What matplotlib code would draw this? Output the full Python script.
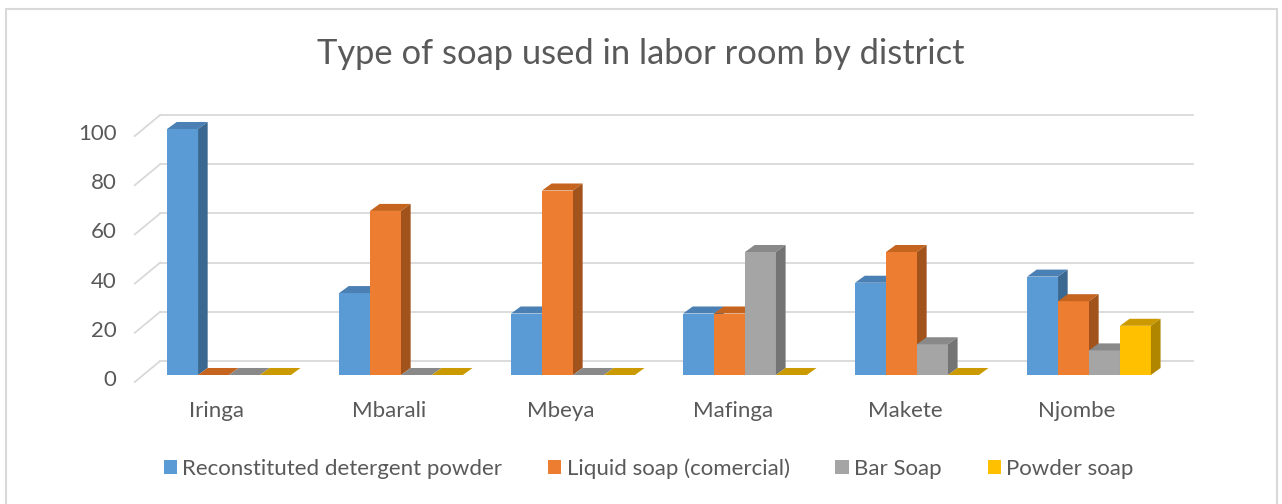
import matplotlib.pyplot as plt
from matplotlib.patches import Patch, Rectangle

plt.rcParams['font.family'] = ['Lato', 'DejaVu Sans']

districts = ['Iringa', 'Mbarali', 'Mbeya', 'Mafinga', 'Makete', 'Njombe']
series = ['Reconstituted detergent powder', 'Liquid soap (comercial)', 'Bar Soap', 'Powder soap']
detergent = [100, 33.3, 25, 25, 37.5, 40]
liquid = [0, 66.7, 75, 25, 50, 30]
bar_soap = [0, 0, 0, 50, 12.5, 10]
powder = [0, 0, 0, 0, 0, 20]
yticks = [0, 20, 40, 60, 80, 100]

# front / top / side shades per series
front_cols = ['#5B9BD5', '#ED7D31', '#A5A5A5', '#FFC000']
top_cols = ['#4A80B4', '#C5641F', '#898989', '#CB9A00']
side_cols = ['#3B6890', '#A1531B', '#747474', '#B08600']
txt = '#595959'

fig = plt.figure(figsize=(12.82, 5.04), dpi=100)
ax = fig.add_axes([0, 0, 1, 1])
# map pixels: x_px = 229 + 172*i, y_px = 375 - 2.46*v
ax.set_xlim((0 - 229) / 172, (1282 - 229) / 172)
ax.set_ylim((375 - 504) / 2.46, 375 / 2.46)
ax.axis('off')

w = 0.18          # bar width
dx, dy = 0.056, 2.85   # bar depth
fx, fy = -0.048, -2.85  # floor front offset
wx, wy = 0.1, 5.7       # back wall offset

# gridlines: diagonal on the side wall + horizontal on the back wall
for v in yticks:
    ax.plot([-0.5 + fx, -0.5 + wx], [v + fy, v + wy], color='#D9D9D9', lw=1.3, zorder=1)
    ax.plot([-0.5 + wx, 5.5 + wx + 0.005], [v + wy, v + wy], color='#D9D9D9', lw=1.3, zorder=1)
    ax.text(-0.655, v - 2.0, str(v), ha='right', va='center', fontsize=16, color=txt)

data = [detergent, liquid, bar_soap, powder]
z = 2
for i in range(len(districts)):
    for k, vals in enumerate(data):
        v = vals[i]
        x0 = i - 2 * w + k * w
        x1 = x0 + w
        if v > 0:
            ax.bar(x0, v, width=w, align='edge', color=front_cols[k], lw=0, zorder=z)
        ax.fill([x0, x1, x1 + dx, x0 + dx], [v, v, v + dy, v + dy],
                color=top_cols[k], lw=0, zorder=z)
        if v > 0:
            ax.fill([x1, x1 + dx, x1 + dx, x1], [0, dy, v + dy, v],
                    color=side_cols[k], lw=0, zorder=z)
        z += 1
    ax.text(i - 0.07, -14.5, districts[i], ha='center', va='center', fontsize=16, color=txt)

ax.text(0.5, 0.893, 'Type of soap used in labor room by district', transform=fig.transFigure,
        ha='center', va='center', fontsize=24.8, color=txt)

handles = [Patch(facecolor=c, edgecolor='none') for c in front_cols]
fig.legend(handles, series, loc='center', bbox_to_anchor=(0.506, 0.071), ncol=4, frameon=False,
           fontsize=16, labelcolor=txt, handlelength=0.6, handleheight=0.6,
           handletextpad=0.25, columnspacing=2.05)

fig.patches.append(Rectangle((6 / 1282, -0.05), 1271 / 1282, 1 - 9 / 504 + 0.05,
                             transform=fig.transFigure, fill=False, edgecolor='#D9D9D9', lw=1.5))

fig.savefig('out.png', dpi=100)
